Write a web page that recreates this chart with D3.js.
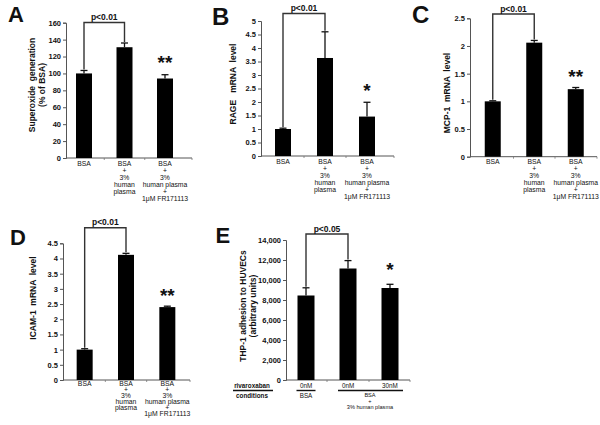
<!DOCTYPE html>
<html>
<head>
<meta charset="utf-8">
<script src="https://cdn.jsdelivr.net/npm/d3@7"></script>
<style>
  html, body { margin: 0; padding: 0; background: #fff; }
  svg { display: block; }
  text { font-family: "Liberation Sans", Arial, sans-serif; fill: #111; }
</style>
</head>
<body>
<svg id="chart" width="600" height="425"></svg>
<script>
// ---------------- DATA ----------------
const categories = ["BSA", "BSA + 3% human plasma", "BSA + 3% human plasma + 1μM FR171113"];
const categoryLabelLines = [
  ["BSA"],
  ["BSA", "+", "3%", "human", "plasma"],
  ["BSA", "+", "3%", "human plasma", "+", "1μM FR171113"]
];

const superoxideMean = [100, 131, 94];
const superoxideErr  = [3.5, 5, 4.5];
const superoxideTicks = [0, 20, 40, 60, 80, 100, 120, 140, 160];
const superoxideStars = ["", "", "**"];

const rageMean = [1.0, 3.63, 1.46];
const rageErr  = [0.03, 0.97, 0.53];
const rageTicks = [0, 0.5, 1, 1.5, 2, 2.5, 3, 3.5, 4, 4.5, 5];
const rageStars = ["", "", "*"];

const mcp1Mean = [1.0, 2.06, 1.22];
const mcp1Err  = [0.01, 0.04, 0.03];
const mcp1Ticks = [0, 0.5, 1, 1.5, 2, 2.5];
const mcp1Stars = ["", "", "**"];

const icam1Mean = [1.0, 4.12, 2.4];
const icam1Err  = [0.03, 0.05, 0.03];
const icam1Ticks = [0, 0.5, 1, 1.5, 2, 2.5, 3, 3.5, 4, 4.5];
const icam1Stars = ["", "", "**"];

const thp1Categories = ["0nM BSA", "0nM BSA + 3% human plasma", "30nM BSA + 3% human plasma"];
const thp1Doses = ["0nM", "0nM", "30nM"];
const thp1Mean = [8450, 11150, 9200];
const thp1Err  = [770, 790, 370];
const thp1Ticks = [0, 2000, 4000, 6000, 8000, 10000, 12000, 14000];
const thp1Stars = ["", "", "*"];

// ---------------- DRAWING ----------------
const svg = d3.select("#chart");
const fmtPlain = d => String(d);
const fmtComma = d3.format(",");

function drawPanel(p) {
  const g = svg.append("g");
  const y = d3.scaleLinear().domain(p.yDomain).range(p.yRange);
  const x = d3.scaleBand().domain(p.cats).range(p.xRange).paddingInner(0).paddingOuter(0);
  const y0 = y(0);
  const cx = c => x(c) + x.bandwidth() / 2;

  // panel letter
  g.append("text").attr("x", p.letterPos[0]).attr("y", p.letterPos[1])
    .attr("font-size", p.letterSize || 22).attr("font-weight", "bold").text(p.letter);

  // y axis
  const ya = g.append("g").attr("transform", `translate(${p.axisX},0)`)
    .call(d3.axisLeft(y).tickValues(p.ticks).tickSize(3).tickPadding(2).tickFormat(p.fmt));
  ya.select(".domain").attr("stroke", "#555").attr("stroke-width", 1);
  ya.selectAll(".tick line").attr("stroke", "#555");
  ya.selectAll(".tick text").attr("font-size", 7.5).attr("font-weight", "bold")
    .attr("font-family", "Liberation Sans, Arial, sans-serif").attr("fill", "#111");

  // x axis line + boundary ticks
  g.append("line").attr("x1", p.axisX).attr("x2", p.axisEnd).attr("y1", y0).attr("y2", y0)
    .attr("stroke", "#555").attr("stroke-width", 1);
  p.cats.slice(1).forEach(c => {
    g.append("line").attr("x1", x(c)).attr("x2", x(c)).attr("y1", y0).attr("y2", y0 + 2)
      .attr("stroke", "#777").attr("stroke-width", 0.8);
  });
  g.append("line").attr("x1", p.axisEnd).attr("x2", p.axisEnd).attr("y1", y0).attr("y2", y0 + 2)
    .attr("stroke", "#777").attr("stroke-width", 0.8);

  // bars
  g.selectAll("rect.bar").data(p.mean).enter().append("rect")
    .attr("x", (d, i) => cx(p.cats[i]) - p.barW / 2)
    .attr("width", p.barW)
    .attr("y", d => y(d))
    .attr("height", d => y0 - y(d))
    .attr("fill", "#000");

  // error bars (upper)
  p.mean.forEach((m, i) => {
    const c = cx(p.cats[i]);
    const top = y(m + p.err[i]);
    g.append("line").attr("x1", c).attr("x2", c).attr("y1", y(m)).attr("y2", top)
      .attr("stroke", "#111").attr("stroke-width", 1.3);
    g.append("line").attr("x1", c - 3.5).attr("x2", c + 3.5).attr("y1", top).attr("y2", top)
      .attr("stroke", "#111").attr("stroke-width", 1.3);
  });

  // significance bracket between bar 0 and bar 1
  const b0 = cx(p.cats[0]), b1 = cx(p.cats[1]);
  const leg0 = y(p.mean[0] + p.err[0]) - 1;
  const leg1 = y(p.mean[1] + p.err[1]) - 1;
  g.append("path")
    .attr("d", `M${b0},${leg0}V${p.bracketY}H${b1}V${leg1}`)
    .attr("fill", "none").attr("stroke", "#333").attr("stroke-width", 1.4);
  g.append("text").attr("x", (b0 + b1) / 2).attr("y", p.bracketY - 2.5)
    .attr("text-anchor", "middle").attr("font-size", 8.5).attr("font-weight", "bold")
    .text(p.pText);

  // stars
  p.stars.forEach((s, i) => {
    if (!s) return;
    g.append("text").attr("x", cx(p.cats[i])).attr("y", p.starY[i] + 11)
      .attr("text-anchor", "middle").attr("font-size", 19).attr("font-weight", "bold")
      .attr("fill", "#222").text(s);
  });

  // y title
  const yt = g.append("text")
    .attr("transform", `translate(${p.titlePos[0]},${p.titlePos[1]}) rotate(-90)`)
    .attr("text-anchor", "middle").attr("font-size", 8.5).attr("font-weight", "bold")
    .style("white-space", "pre");
  p.title.forEach((line, k) => {
    yt.append("tspan").attr("x", 0).attr("dy", k === 0 ? "0.35em" : p.titleGap).text(line);
  });

  // category labels
  if (p.labelLines) {
    p.labelLines.forEach((lines, i) => {
      const t = g.append("text").attr("text-anchor", "middle").attr("font-size", 6.8)
        .attr("y", y0 + p.labelFirst);
      lines.forEach((ln, k) => {
        t.append("tspan").attr("x", cx(p.cats[i])).attr("dy", k === 0 ? 0 : p.labelGap).text(ln);
      });
    });
  }
  return { g, x, y, cx, y0 };
}

drawPanel({
  letter: "A", letterPos: [8, 22], cats: categories,
  mean: superoxideMean, err: superoxideErr, ticks: superoxideTicks, fmt: fmtPlain,
  yDomain: [0, 160], yRange: [158, 22.7], xRange: [63.75, 185.25], axisX: 66, axisEnd: 192,
  barW: 16, bracketY: 22.5, pText: "p<0.01", stars: superoxideStars, starY: [0, 0, 58],
  title: ["Superoxide  generation", "(% of BSA)"], titlePos: [32, 85], titleGap: 10.5,
  labelLines: categoryLabelLines, labelFirst: 7.5, labelGap: 7.1
});

drawPanel({
  letter: "B", letterPos: [212, 25], letterSize: 24, cats: categories,
  mean: rageMean, err: rageErr, ticks: rageTicks, fmt: fmtPlain,
  yDomain: [0, 5], yRange: [156, 21], xRange: [262, 388], axisX: 261, axisEnd: 394,
  barW: 16, bracketY: 13.5, pText: "p<0.01", stars: rageStars, starY: [0, 0, 86],
  title: ["RAGE   mRNA  level"], titlePos: [233, 84], titleGap: 10,
  labelLines: categoryLabelLines, labelFirst: 7.5, labelGap: 7
});

drawPanel({
  letter: "C", letterPos: [412, 23], letterSize: 24, cats: categories,
  mean: mcp1Mean, err: mcp1Err, ticks: mcp1Ticks, fmt: fmtPlain,
  yDomain: [0, 2.5], yRange: [156.7, 18.3], xRange: [472, 596.5], axisX: 470, axisEnd: 597,
  barW: 16, bracketY: 14, pText: "p<0.01", stars: mcp1Stars, starY: [0, 0, 71.5],
  title: ["MCP-1  mRNA  level"], titlePos: [447, 93], titleGap: 10,
  labelLines: categoryLabelLines, labelFirst: 7.5, labelGap: 7
});

drawPanel({
  letter: "D", letterPos: [10, 244.5], cats: categories,
  mean: icam1Mean, err: icam1Err, ticks: icam1Ticks, fmt: fmtPlain,
  yDomain: [0, 4.5], yRange: [380, 243.3], xRange: [64, 188], axisX: 63, axisEnd: 190,
  barW: 16, bracketY: 227.8, pText: "p<0.01", stars: icam1Stars, starY: [0, 0, 290.7],
  title: ["ICAM-1  mRNA  level"], titlePos: [33, 298], titleGap: 10,
  labelLines: categoryLabelLines, labelFirst: 5.5, labelGap: 6
});

const e = drawPanel({
  letter: "E", letterPos: [215.5, 243], cats: thp1Categories,
  mean: thp1Mean, err: thp1Err, ticks: thp1Ticks, fmt: fmtComma,
  yDomain: [0, 14000], yRange: [380, 240], xRange: [285, 411], axisX: 286, axisEnd: 410,
  barW: 17, bracketY: 234, pText: "p<0.05", stars: thp1Stars, starY: [0, 0, 265],
  title: ["THP-1 adhesion to HUVECs", "(arbitrary units)"], titlePos: [243.5, 306], titleGap: 10,
  labelLines: null
});

// panel E condition rows
(function () {
  const g = e.g;
  const rowY = e.y0 + 7.5;
  const lineY = e.y0 + 10.5;
  const fs = 6.3;
  g.append("text").attr("x", 252).attr("y", rowY).attr("text-anchor", "middle")
    .attr("font-size", fs).attr("font-weight", "bold").text("rivaroxaban");
  g.append("line").attr("x1", 233).attr("x2", 273).attr("y1", lineY).attr("y2", lineY)
    .attr("stroke", "#111").attr("stroke-width", 1.4);
  g.append("text").attr("x", 252).attr("y", lineY + 7.5).attr("text-anchor", "middle")
    .attr("font-size", fs).attr("font-weight", "bold").text("conditions");

  thp1Doses.forEach((d, i) => {
    g.append("text").attr("x", e.cx(thp1Categories[i])).attr("y", rowY).attr("text-anchor", "middle")
      .attr("font-size", fs).text(d);
  });
  const c0 = e.cx(thp1Categories[0]), c1 = e.cx(thp1Categories[1]), c2 = e.cx(thp1Categories[2]);
  g.append("line").attr("x1", c0 - 9.5).attr("x2", c0 + 9.5).attr("y1", lineY).attr("y2", lineY)
    .attr("stroke", "#111").attr("stroke-width", 1.4);
  g.append("text").attr("x", c0).attr("y", lineY + 7.5).attr("text-anchor", "middle")
    .attr("font-size", fs).text("BSA");
  g.append("line").attr("x1", c1 - 10).attr("x2", c2 + 13).attr("y1", lineY).attr("y2", lineY)
    .attr("stroke", "#111").attr("stroke-width", 1.4);
  const mid = (c1 + c2) / 2 + 1;
  const t = g.append("text").attr("text-anchor", "middle").attr("font-size", 5.6).attr("y", lineY + 6.8);
  ["BSA", "+", "3% human plasma"].forEach((ln, k) => {
    t.append("tspan").attr("x", mid).attr("dy", k === 0 ? 0 : 5.7).text(ln);
  });
})();
</script>
</body>
</html>
